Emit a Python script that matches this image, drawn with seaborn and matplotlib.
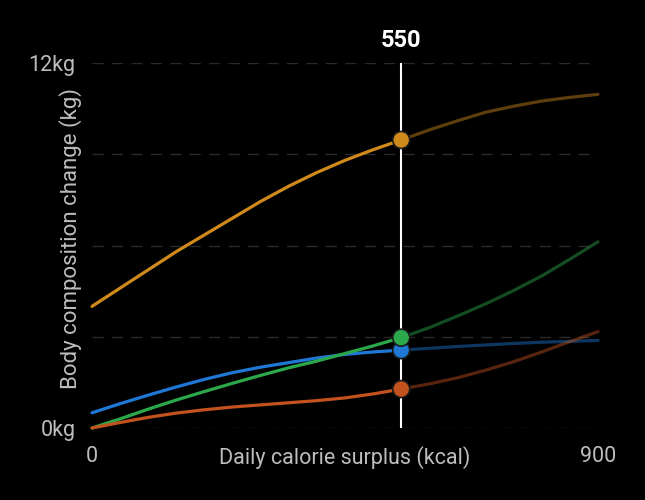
import numpy as np
import pandas as pd
import matplotlib
matplotlib.use("Agg")
import matplotlib.pyplot as plt
import seaborn as sns

# data (kg change per daily kcal surplus)
surplus = [0, 50, 100, 150, 200, 250, 300, 350, 400, 450,
           500, 550, 600, 650, 700, 750, 800, 850, 900]
series_a = [4.0, 4.6, 5.2, 5.8, 6.35, 6.9, 7.45, 7.95, 8.4, 8.8,
            9.15, 9.47, 9.8, 10.1, 10.38, 10.58, 10.75, 10.87, 10.97]
series_b = [0.5, 0.8, 1.08, 1.35, 1.6, 1.82, 2.0, 2.15, 2.3, 2.42,
            2.5, 2.56, 2.62, 2.68, 2.73, 2.78, 2.82, 2.85, 2.88]
series_c = [0.0, 0.3, 0.62, 0.92, 1.2, 1.47, 1.73, 1.98, 2.2, 2.45,
            2.7, 2.97, 3.3, 3.68, 4.08, 4.52, 5.0, 5.55, 6.12]
series_d = [0.0, 0.18, 0.35, 0.49, 0.6, 0.69, 0.76, 0.83, 0.9, 0.99,
            1.12, 1.28, 1.45, 1.65, 1.9, 2.18, 2.5, 2.84, 3.17]
names = ["a", "b", "c", "d"]
colors = ["#D08A1C", "#1F78D6", "#2CA84C", "#C4521E"]
cursor = 550
y_ticks = [0, 12]
y_tick_labels = ["0kg", "12kg"]

df = pd.DataFrame({"surplus": surplus, "a": series_a, "b": series_b,
                   "c": series_c, "d": series_d})
long = df.melt(id_vars="surplus", var_name="series", value_name="kg")
palette = dict(zip(names, colors))

sns.set_style("dark")
plt.rcParams["font.family"] = ["Roboto", "DejaVu Sans"]

fig = plt.figure(figsize=(6.45, 5), dpi=100, facecolor="black")
ax = fig.add_axes([92 / 645, 1 - 428 / 500, 506 / 645, 365 / 500])
ax.set_facecolor("black")

# grid
for g in [0, 3, 6, 9, 12]:
    ax.axhline(g, color="#2a2a2a", lw=1, dashes=(8, 6), zorder=0)

before = long[long["surplus"] <= cursor]
after = long[long["surplus"] >= cursor]
sns.lineplot(data=before, x="surplus", y="kg", hue="series", palette=palette,
             lw=2.3, legend=False, ax=ax, clip_on=False)
sns.lineplot(data=after, x="surplus", y="kg", hue="series", palette=palette,
             lw=2.3, alpha=0.45, legend=False, ax=ax, clip_on=False)

ax.axvline(cursor, ymin=0, ymax=1, color="white", lw=1.5, zorder=3)
ax.text(cursor, 12.35, str(cursor), color="white", fontsize=17,
        fontweight="bold", ha="center", va="bottom")

at = long[long["surplus"] == cursor]
sns.scatterplot(data=at, x="surplus", y="kg", hue="series", palette=palette,
                s=150, edgecolor="#1a1a1a", linewidth=1.2, legend=False,
                ax=ax, zorder=5, clip_on=False)

ax.set_xlim(0, 900)
ax.set_ylim(0, 12)
ax.set_xticks([0, 900])
ax.set_xticklabels(["0", "900"])
ax.set_yticks(y_ticks)
ax.set_yticklabels(y_tick_labels)
ax.tick_params(colors="#bdbdbd", labelsize=15.5, length=0)
ax.tick_params(axis="x", pad=13)
ax.tick_params(axis="y", pad=12)
ax.grid(False)
for s in ax.spines.values():
    s.set_visible(False)

ax.set_xlabel("Daily calorie surplus (kcal)", color="#bdbdbd", fontsize=15.5)
ax.xaxis.set_label_coords(0.5, -0.048)
ax.set_ylabel("Body composition change (kg)", color="#bdbdbd", fontsize=16)
ax.yaxis.set_label_coords(-0.02, 0.52)

fig.savefig("out.png", dpi=100, facecolor="black")
